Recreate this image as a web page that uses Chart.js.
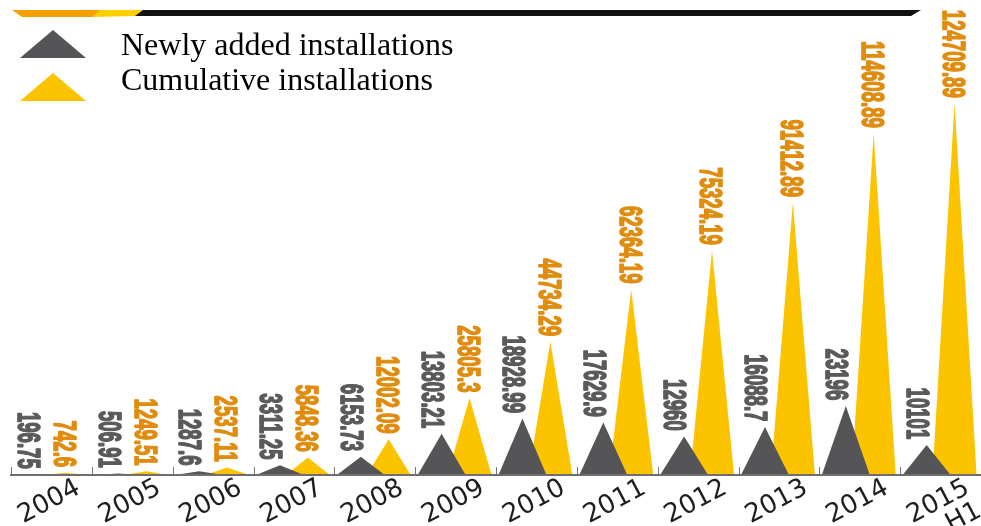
<!DOCTYPE html>
<html>
<head>
<meta charset="utf-8">
<title>Installations 2004-2015 H1</title>
<script src="https://cdn.jsdelivr.net/npm/chart.js@4.4.0/dist/chart.umd.min.js"></script>
<style>
  html, body { margin: 0; padding: 0; background: #fff; }
  #wrap { position: relative; width: 981px; height: 526px; overflow: hidden; }
  #legend { position: absolute; left: 0; top: 0; font-family: "Liberation Serif", "Times New Roman", serif; font-size: 32px; color: #000; }
  #legend .icon { position: absolute; width: 66px; height: 28px; clip-path: polygon(50% 0, 100% 100%, 0 100%); }
  #legend .text { position: absolute; white-space: nowrap; line-height: 32px; }
</style>
</head>
<body>
<div id="wrap">
  <canvas id="chart"></canvas>
  <div id="legend"></div>
</div>
<script>
// Data
const years = ['2004', '2005', '2006', '2007', '2008', '2009', '2010', '2011', '2012', '2013', '2014', ['2015', 'H1']];
const newlyAdded = [196.75, 506.91, 1287.6, 3311.25, 6153.73, 13803.21, 18928.99, 17629.9, 12960, 16088.7, 23196, 10101];
const cumulative = [742.6, 1249.51, 2537.11, 5848.36, 12002.09, 25805.3, 44734.29, 62364.19, 75324.19, 91412.89, 114608.89, 124709.89];

const GRAY = '#555456';
const YELLOW = '#FCC400';

// Draw each bar as a triangle standing on its base
const trianglePlugin = {
  id: 'triangles',
  beforeDatasetDraw(chart, args) {
    const ds = chart.data.datasets[args.index];
    const ctx = chart.ctx;
    ctx.save();
    ctx.fillStyle = ds.backgroundColor;
    args.meta.data.forEach(bar => {
      const { x, y, base, width } = bar.getProps(['x', 'y', 'base', 'width'], true);
      const half = width * ds.spread;
      ctx.beginPath();
      ctx.moveTo(x - half, base);
      ctx.lineTo(x, y);
      ctx.lineTo(x + half, base);
      ctx.closePath();
      ctx.fill();
    });
    ctx.restore();
    return false;
  }
};

// Vertical value labels above each apex, plus small boundary ticks on the axis
const labelPlugin = {
  id: 'valueLabels',
  afterDatasetsDraw(chart) {
    const ctx = chart.ctx;
    chart.data.datasets.forEach((ds, i) => {
      chart.getDatasetMeta(i).data.forEach((bar, j) => {
        ctx.save();
        ctx.translate(bar.x + ds.labelShift, bar.y - 5);
        ctx.rotate(Math.PI / 2);
        ctx.scale(0.62, 1.05);
        ctx.font = 'bold 30px "Liberation Sans", Arial, sans-serif';
        ctx.fillStyle = ds.labelColor;
        ctx.strokeStyle = ds.labelColor;
        ctx.lineWidth = 1.6;
        ctx.lineJoin = 'round';
        ctx.textAlign = 'right';
        ctx.textBaseline = 'middle';
        const txt = String(ds.data[j]);
        ctx.strokeText(txt, -1, 0);
        ctx.fillText(txt, -1, 0);
        ctx.restore();
      });
    });

    const xs = chart.scales.x;
    const step = xs.width / years.length;
    const bottom = chart.chartArea.bottom;
    ctx.save();
    ctx.strokeStyle = '#777';
    ctx.lineWidth = 1;
    ctx.beginPath();
    for (let i = 0; i < years.length; i++) {
      const px = Math.round(xs.getPixelForValue(i) - step / 2) + 0.5;
      ctx.moveTo(px, bottom);
      ctx.lineTo(px, bottom - 8);
    }
    ctx.stroke();
    ctx.restore();
  },
  // header stripe
  afterDraw(chart) {
    const ctx = chart.ctx;
    const band = (color, pts) => {
      ctx.fillStyle = color;
      ctx.beginPath();
      ctx.moveTo(pts[0][0], pts[0][1]);
      pts.slice(1).forEach(p => ctx.lineTo(p[0], p[1]));
      ctx.closePath();
      ctx.fill();
    };
    ctx.save();
    band('#111', [[140, 10], [921, 10], [911, 16], [132, 16]]);
    band('#FCD000', [[98, 10], [143, 10], [135, 16], [90, 17]]);
    band('#F5A000', [[12, 10], [100, 10], [92, 17], [22, 17]]);
    ctx.restore();
  }
};

const chart = new Chart(document.getElementById('chart'), {
  type: 'bar',
  data: {
    labels: years,
    datasets: [
      {
        label: 'Newly added installations',
        data: newlyAdded,
        backgroundColor: GRAY,
        labelColor: '#5a5a5a',
        labelShift: -11,
        spread: 0.86
      },
      {
        label: 'Cumulative installations',
        data: cumulative,
        backgroundColor: YELLOW,
        labelColor: '#E08C0E',
        labelShift: -3,
        spread: 0.79
      }
    ]
  },
  options: {
    responsive: true,
    maintainAspectRatio: false,
    animation: false,
    layout: { padding: { left: 11, right: 0, top: 0, bottom: 0 } },
    datasets: { bar: { categoryPercentage: 0.69, barPercentage: 1 } },
    plugins: { legend: { display: false }, tooltip: { enabled: false } },
    scales: {
      x: {
        grid: { display: false, drawTicks: false },
        border: { display: true, color: '#6e6e6e', width: 2, z: 1 },
        ticks: {
          autoSkip: false,
          minRotation: 28,
          maxRotation: 28,
          labelOffset: 27,
          padding: 0,
          color: '#1e1e1e',
          font: { family: '"DejaVu Sans", sans-serif', size: 26, lineHeight: 1.0 }
        },
        afterFit(scale) {
          scale.height = 51;
          scale.paddingLeft = 0;
          scale.paddingRight = 0;
        }
      },
      y: { display: false, min: 0, max: 159400 }
    }
  },
  plugins: [trianglePlugin, labelPlugin]
});

// Legend built from the datasets
const legend = document.getElementById('legend');
chart.data.datasets.forEach((ds, i) => {
  const icon = document.createElement('div');
  icon.className = 'icon';
  icon.style.left = '20px';
  icon.style.top = (30 + i * 43) + 'px';
  icon.style.background = ds.backgroundColor;
  legend.appendChild(icon);

  const text = document.createElement('div');
  text.className = 'text';
  text.style.left = '121px';
  text.style.top = (28 + i * 35) + 'px';
  text.textContent = ds.label;
  legend.appendChild(text);
});
</script>
</body>
</html>
